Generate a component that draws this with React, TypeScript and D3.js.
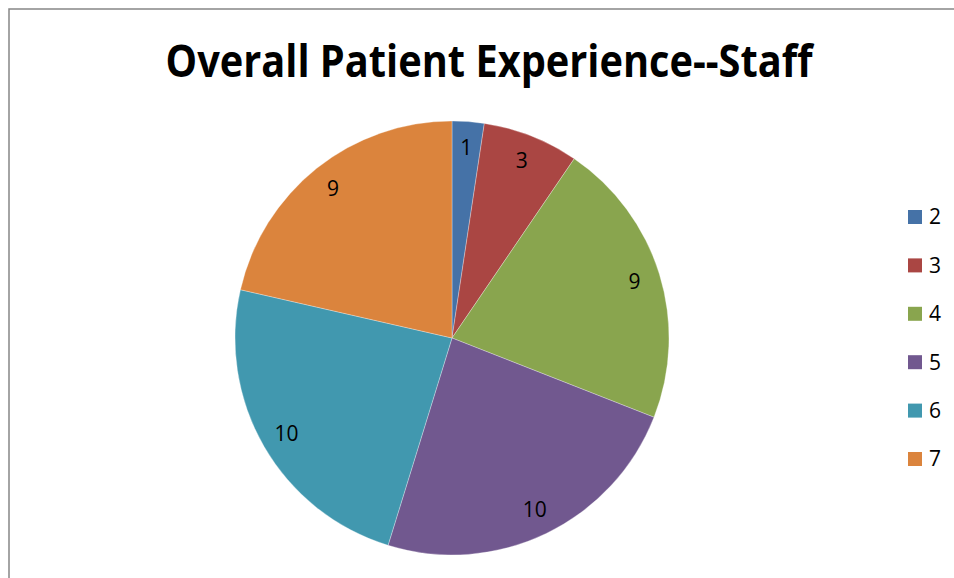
import React from "react";
import * as d3 from "d3";

const categories = ["2", "3", "4", "5", "6", "7"];
const values = [1, 3, 9, 10, 10, 9];
const colors = ["#4572A7", "#AA4643", "#89A54E", "#71588F", "#4198AF", "#DB843D"];
const title = "Overall Patient Experience--Staff";

export default function App() {
  const W = 954, H = 578;
  const cx = 452, cy = 338, r = 217;
  const pie = d3.pie<number>().sort(null).value((d) => d);
  const arcs = pie(values);
  const arc = d3.arc<d3.PieArcDatum<number>>().innerRadius(0).outerRadius(r);
  const labelArc = d3.arc<d3.PieArcDatum<number>>().innerRadius(191).outerRadius(191);
  const legendY = d3.scalePoint<string>().domain(categories).range([217, 459]);
  return (
    <svg width={W} height={H} style={{ position: "absolute", left: 0, top: 0, background: "#fff" }}>
      <rect x={0} y={0} width={W} height={H} fill="#fff" />
      <path d={`M9,${H} L9,9 L${W},9`} fill="none" stroke="#868686" strokeWidth={1.5} />
      <text x={489} y={77} textAnchor="middle" fontFamily="'Open Sans', 'Liberation Sans', sans-serif"
        fontWeight="bold" fontSize={44} textLength={647} lengthAdjust="spacingAndGlyphs" fill="#000">{title}</text>
      <g transform={`translate(${cx},${cy})`}>
        {arcs.map((a, i) => (
          <path key={i} d={arc(a) || ""} fill={colors[i]} stroke="#fff" strokeOpacity={0.6} strokeWidth={0.5} />
        ))}
        {arcs.map((a, i) => {
          const [x, y] = labelArc.centroid(a);
          return (
            <text key={"l" + i} x={x} y={y} dy="0.35em" textAnchor="middle"
              fontFamily="'Open Sans', 'Liberation Sans', sans-serif" fontSize={21} fill="#000">{values[i]}</text>
          );
        })}
      </g>
      {categories.map((c, i) => (
        <g key={c} transform={`translate(908,${legendY(c)})`}>
          <rect x={0} y={-7} width={14} height={14} fill={colors[i]} />
          <text x={21} y={0} dy="0.35em" fontFamily="'Open Sans', 'Liberation Sans', sans-serif" fontSize={21} fill="#000">{c}</text>
        </g>
      ))}
    </svg>
  );
}
